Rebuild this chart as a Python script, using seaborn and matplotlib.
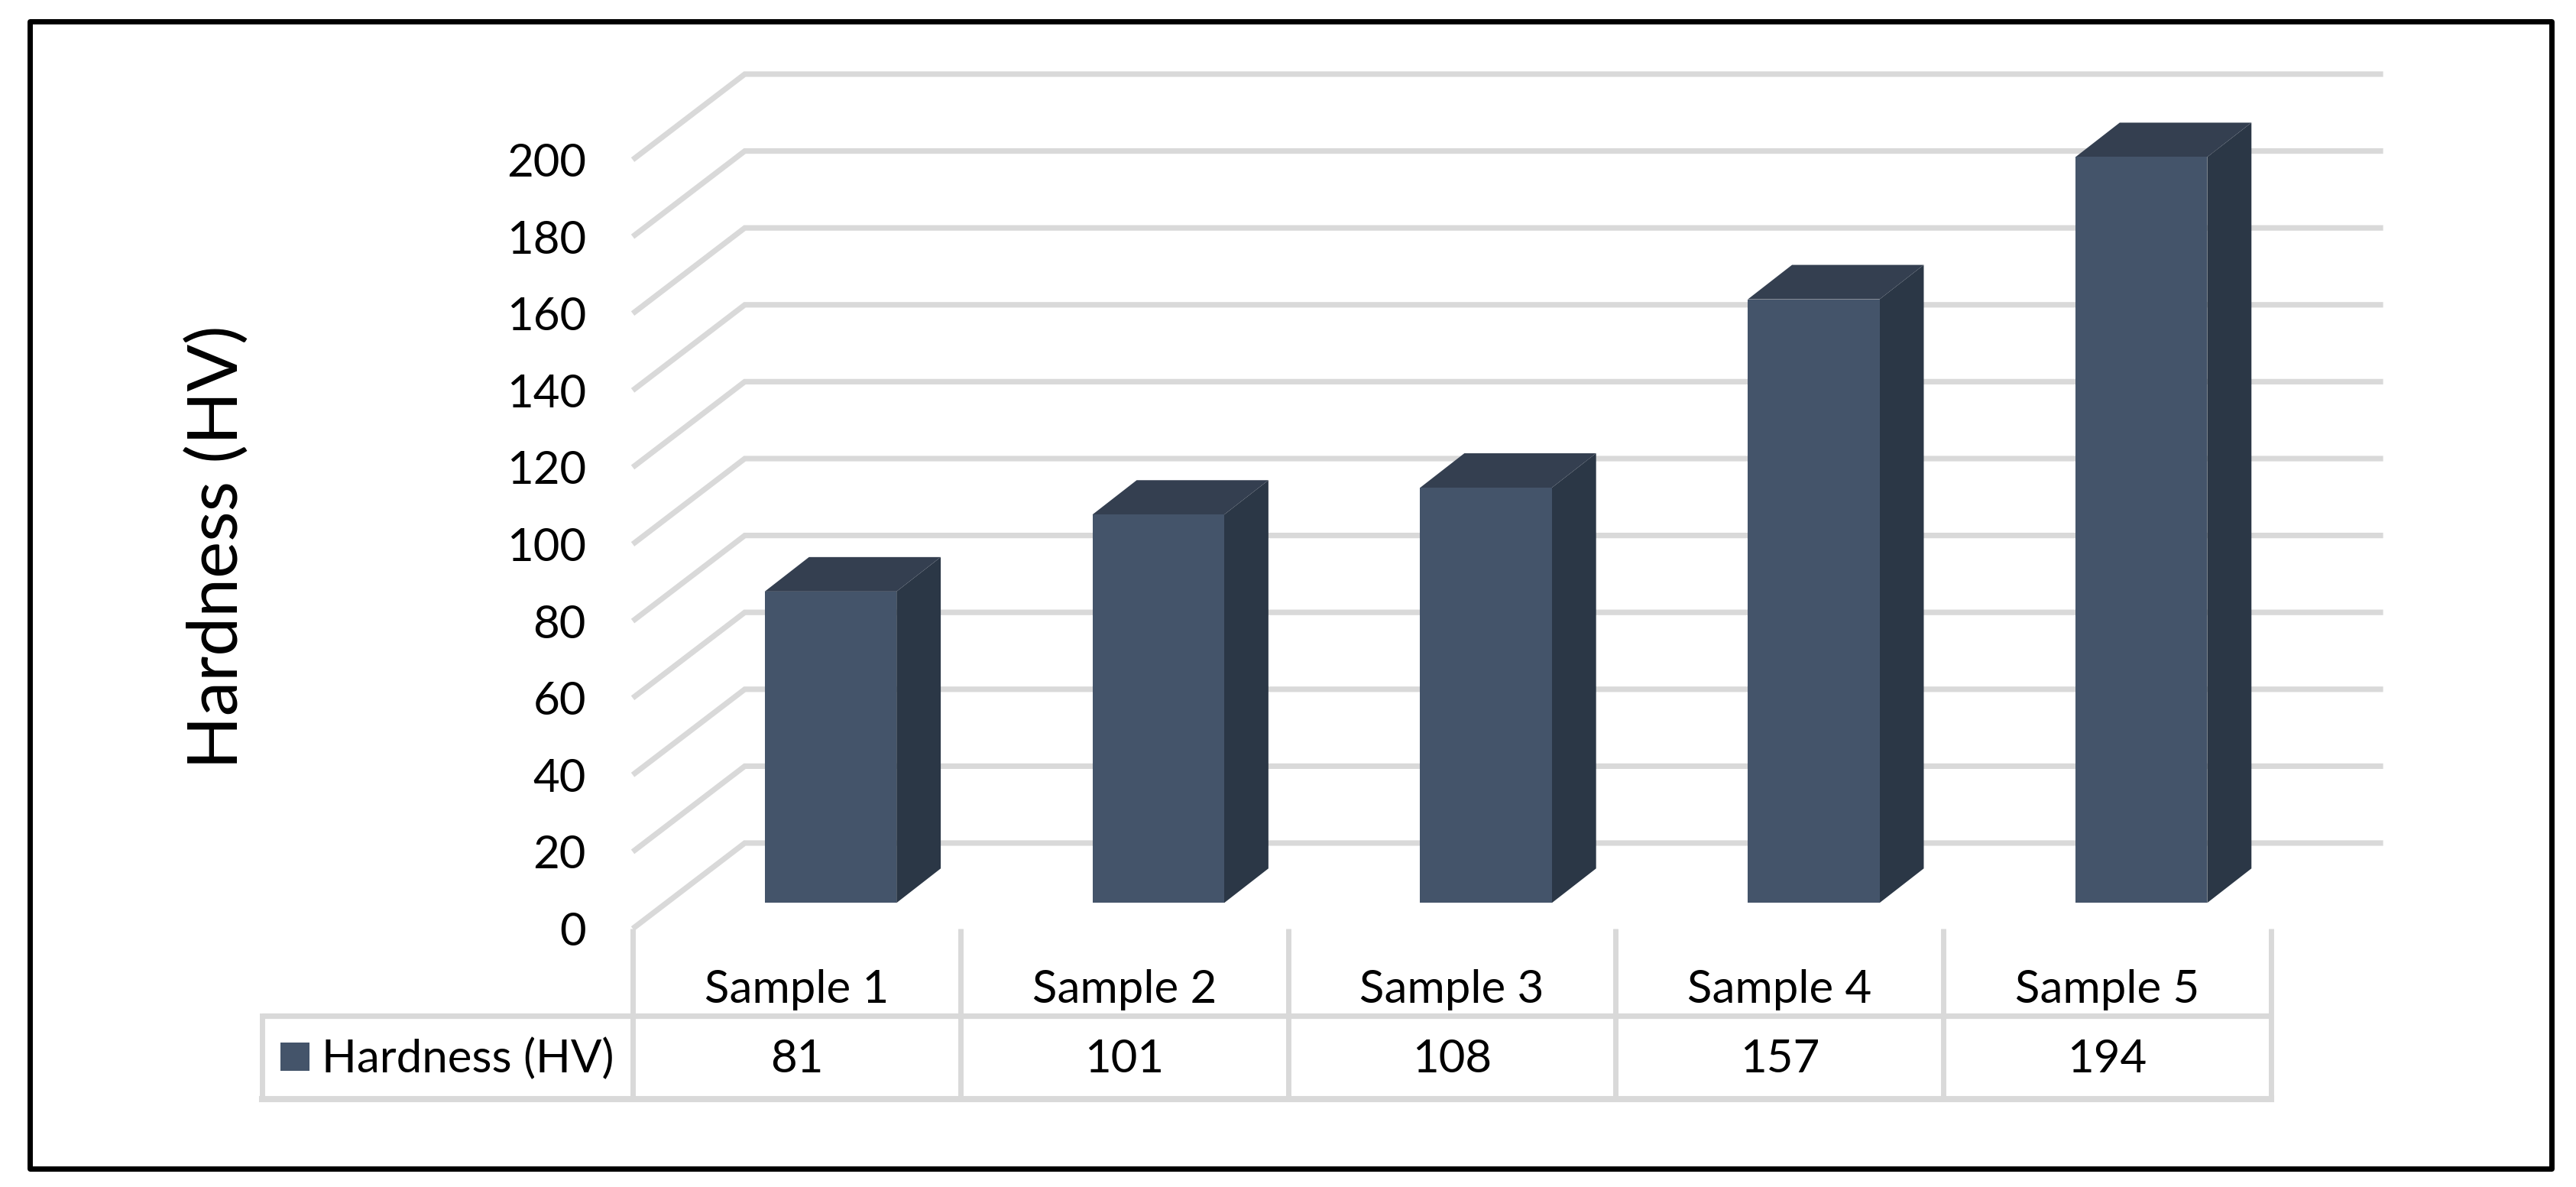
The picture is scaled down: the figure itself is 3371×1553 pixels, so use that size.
import matplotlib
matplotlib.use("Agg")
import matplotlib.pyplot as plt
import seaborn as sns
from matplotlib.patches import Rectangle
from matplotlib.transforms import Affine2D

samples = ["Sample 1", "Sample 2", "Sample 3", "Sample 4", "Sample 5"]
hardness = [81, 101, 108, 157, 194]
yticks = list(range(0, 201, 20))
series_name = "Hardness (HV)"

W, H = 3371, 1553
FRONT, SIDE, TOP, GRID = "#44546A", "#2B3746", "#343F50", "#D9D9D9"

sns.set_theme(style="white")
plt.rcParams["font.family"] = ["Lato", "DejaVu Sans"]
FS = 43.2

fig = plt.figure(figsize=(W / 100, H / 100), dpi=100, facecolor="white")


def px_axes(x0, x1, ytop, ybot):
    return fig.add_axes([x0 / W, 1 - ybot / H, (x1 - x0) / W, (ybot - ytop) / H])


ax = px_axes(828, 2972, 209, 1215)
ax.patch.set_visible(False)
sns.barplot(x=samples, y=hardness, color=FRONT, saturation=1, width=0.402, ax=ax, zorder=4)
ax.set_xlim(-0.5, 4.5)
ax.set_ylim(0, 200)

# 3D geometry, in data units
wall_dx, wall_dy = 0.342, 22.27
bar_dx, bar_dy = 0.104, 6.7
depth_x, depth_y = 0.135, 8.95
shift = Affine2D().translate(bar_dx, bar_dy) + ax.transData

# back wall and floor/side lines
for v in yticks:
    ax.plot([-0.5, -0.5 + wall_dx, 4.5 + wall_dx], [v, v + wall_dy, v + wall_dy],
            color=GRID, lw=5.2, solid_joinstyle="miter", solid_capstyle="butt",
            clip_on=False, zorder=1)

for patch, val in zip(ax.patches, hardness):
    patch.set_transform(shift)
    patch.set_clip_on(False)
    patch.set_linewidth(0)
    x0, x1 = patch.get_x(), patch.get_x() + patch.get_width()
    ax.fill([x1, x1 + depth_x, x1 + depth_x, x1], [0, depth_y, val + depth_y, val],
            color=SIDE, lw=0, transform=shift, clip_on=False, zorder=3)
    ax.fill([x0, x1, x1 + depth_x, x0 + depth_x], [val, val, val + depth_y, val + depth_y],
            color=TOP, lw=0, transform=shift, clip_on=False, zorder=3)

ax.set_yticks(yticks)
ax.tick_params(axis="y", length=0, pad=44, labelsize=FS, labelcolor="black")
ax.tick_params(axis="x", length=0, pad=38, labelsize=FS, labelcolor="black")
ax.set_xlabel("")
ax.set_ylabel(series_name, fontsize=65.7, color="black")
ax.yaxis.set_label_coords(-0.2335, 0.496)
sns.despine(ax=ax, left=True, bottom=True)

# data table under the axis (y runs in pixels below the zero line)
tb = px_axes(828, 2972, 1215, 1439)
tb.patch.set_visible(False)
tb.set_xlim(-0.5, 4.5)
tb.set_ylim(224, 0)
tb.axis("off")
left = -0.5 - 485 / 428.8
row_top, row_bot = 114, 223
kw = dict(color=GRID, clip_on=False, zorder=1)
for i in range(6):
    tb.plot([i - 0.5, i - 0.5], [0, row_bot], lw=5, solid_capstyle="butt", **kw)
tb.plot([left, left], [row_top, row_bot], lw=5, solid_capstyle="projecting", **kw)
tb.plot([left, 4.5], [row_top, row_top], lw=5.2, solid_capstyle="butt", **kw)
tb.plot([left, 4.5], [row_bot, row_bot], lw=5.8, solid_capstyle="projecting", **kw)
for i, v in enumerate(hardness):
    tb.text(i, 171, str(v), ha="center", va="center", fontsize=FS, color="black")
tb.add_patch(Rectangle((-0.5 - 461 / 428.8, 149), 38 / 428.8, 37, color=FRONT, lw=0, clip_on=False))
tb.text(-0.5 - 407 / 428.8, 170, series_name, ha="left", va="center", fontsize=FS, color="black")

# outer frame
fig.add_artist(Rectangle((39 / W, 1 - 1528.5 / H), 3299.5 / W, 1501 / H, transform=fig.transFigure,
                         fill=False, edgecolor="black", lw=5, joinstyle="round"))

fig.savefig("out.png", dpi=100, facecolor="white")
